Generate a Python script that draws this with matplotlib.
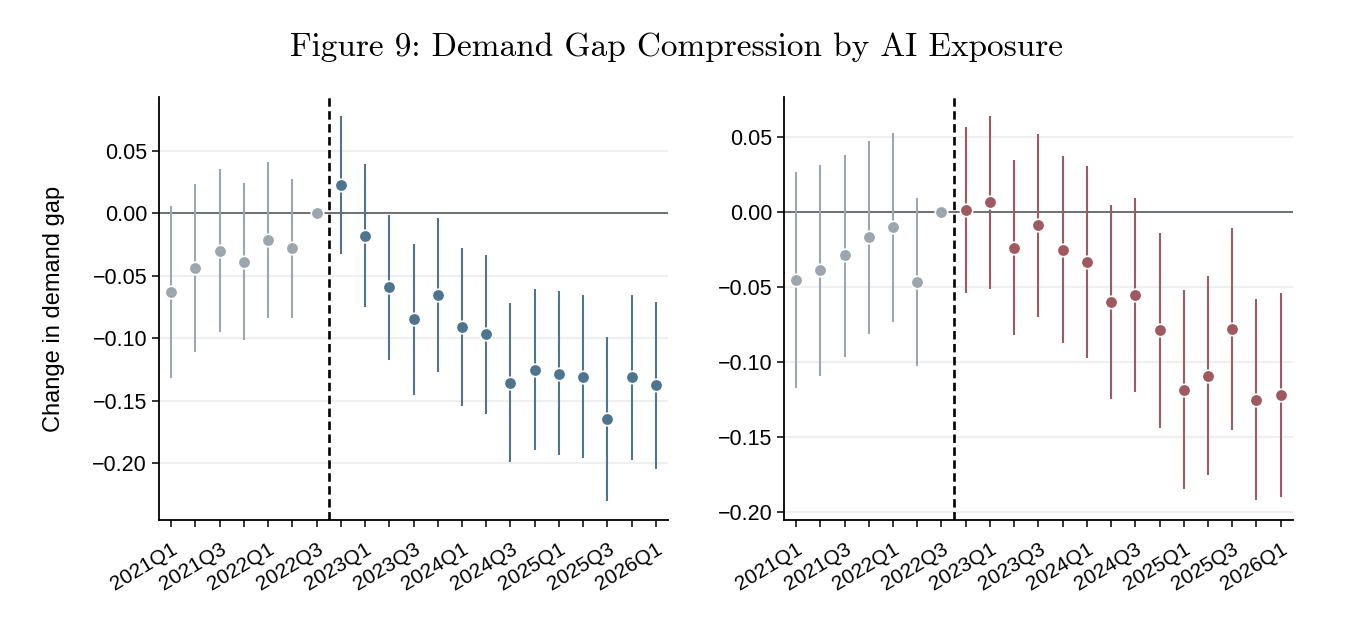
import numpy as np
import matplotlib.pyplot as plt

quarters = ['2021Q1', '2021Q2', '2021Q3', '2021Q4', '2022Q1', '2022Q2', '2022Q3', '2022Q4',
            '2023Q1', '2023Q2', '2023Q3', '2023Q4', '2024Q1', '2024Q2', '2024Q3', '2024Q4',
            '2025Q1', '2025Q2', '2025Q3', '2025Q4', '2026Q1']
ref_idx = 6  # reference period, estimate fixed at 0

# left panel
left_est = [-0.0633, -0.0438, -0.0299, -0.0387, -0.0216, -0.0280, 0.0,
            0.0224, -0.0179, -0.0595, -0.0849, -0.0654, -0.0910, -0.0966,
            -0.1356, -0.1252, -0.1284, -0.1308, -0.1647, -0.1313, -0.1377]
left_lo = [-0.1316, -0.1110, -0.0950, -0.1014, -0.0838, -0.0836, 0.0,
           -0.0326, -0.0753, -0.1175, -0.1452, -0.1270, -0.1546, -0.1604,
           -0.1991, -0.1895, -0.1938, -0.1962, -0.2301, -0.1973, -0.2045]
left_hi = [0.0056, 0.0230, 0.0355, 0.0240, 0.0406, 0.0275, 0.0,
           0.0777, 0.0392, -0.0016, -0.0248, -0.0037, -0.0275, -0.0331,
           -0.0718, -0.0611, -0.0627, -0.0654, -0.0990, -0.0654, -0.0713]

# right panel
right_est = [-0.0453, -0.0389, -0.0291, -0.0167, -0.0104, -0.0467, 0.0,
             0.0013, 0.0062, -0.0238, -0.0091, -0.0253, -0.0333, -0.0600,
             -0.0551, -0.0789, -0.1187, -0.1091, -0.0780, -0.1251, -0.1222]
right_lo = [-0.1176, -0.1091, -0.0967, -0.0813, -0.0733, -0.1027, 0.0,
            -0.0542, -0.0516, -0.0824, -0.0702, -0.0876, -0.0976, -0.1244,
            -0.1198, -0.1438, -0.1849, -0.1753, -0.1451, -0.1922, -0.1902]
right_hi = [0.0267, 0.0309, 0.0380, 0.0473, 0.0524, 0.0093, 0.0,
            0.0567, 0.0640, 0.0347, 0.0518, 0.0371, 0.0307, 0.0044,
            0.0093, -0.0142, -0.0522, -0.0427, -0.0111, -0.0578, -0.0544]

yticks = [0.05, 0.0, -0.05, -0.10, -0.15, -0.20]

plt.rcParams['font.family'] = ['Liberation Sans', 'DejaVu Sans']

gray = '#9ba6ae'
blue = '#4e7590'
red = '#a05a5f'

fig = plt.figure(figsize=(13.69, 6.18), dpi=100)
ax1 = fig.add_axes([0.1161, 0.1586, 0.3719, 0.6845])
ax2 = fig.add_axes([0.5727, 0.1586, 0.3716, 0.6845])


def panel(ax, est, lo, hi, post_color, ylim):
    est = np.array(est)
    lo = np.array(lo)
    hi = np.array(hi)
    x = np.arange(len(est))
    for i in x:
        c = gray if i <= ref_idx else post_color
        if hi[i] != lo[i]:
            ax.plot([i, i], [lo[i], hi[i]], color=c, lw=1.5, zorder=3, solid_capstyle='butt')
        ax.plot(i, est[i], 'o', color=c, ms=9, mec='white', mew=1.2, zorder=4)
    ax.axhline(0, color='#555b60', lw=1.2, zorder=2)
    ax.axvline(ref_idx + 0.5, color='black', lw=1.9, ls=(0, (3.2, 1.7)), zorder=5)
    ax.set_xlim(-0.5, len(est) - 0.5)
    ax.set_ylim(*ylim)
    ax.set_yticks(yticks)
    ax.set_yticklabels(['%.2f' % v if v >= 0 else '\u2212%.2f' % -v for v in yticks])
    ax.set_xticks(x)
    ax.set_xticklabels([q if k % 2 == 0 else '' for k, q in enumerate(quarters)],
                       rotation=31, ha='right', rotation_mode='anchor')
    ax.grid(axis='y', color='#efefef', lw=1.5, zorder=0)
    ax.set_axisbelow(True)
    for s in ['top', 'right']:
        ax.spines[s].set_visible(False)
    for s in ['left', 'bottom']:
        ax.spines[s].set_linewidth(1.3)
    ax.tick_params(axis='y', labelsize=15.5, length=5, width=1.1, direction='out')
    ax.tick_params(axis='x', labelsize=15, length=5, width=1.1, direction='out', pad=9)


panel(ax1, left_est, left_lo, left_hi, blue, (-0.2456, 0.093))
panel(ax2, right_est, right_lo, right_hi, red, (-0.2053, 0.0765))
ax1.set_ylabel('Change in demand gap', fontsize=17, labelpad=20)

fig.suptitle('Figure 9: Demand Gap Compression by AI Exposure', family='cmr10',
             fontsize=24, x=0.494, y=0.923, va='center')

fig.savefig('out.png', dpi=100)
